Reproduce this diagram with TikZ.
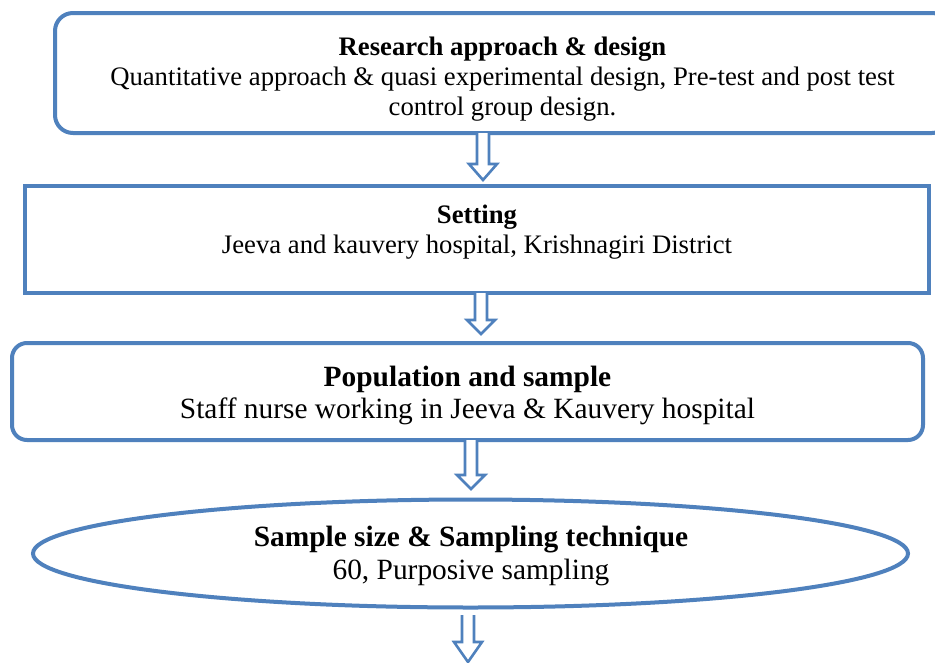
\documentclass[tikz,border=0pt]{standalone}
\usepackage{fontspec}
\setmainfont{Liberation Serif}
\usetikzlibrary{shapes.geometric}
\definecolor{oblue}{HTML}{4F81BD}
\tikzset{
  x=1pt, y=-1pt,
  frame/.style={draw=oblue, line width=4pt, fill=none, inner sep=0pt},
  lbl/.style={align=center, inner sep=0pt, text=black},
  barrow/.style={draw=oblue, line width=2.6pt, fill=white, line join=miter},
}
\newcommand{\blockarrow}[4]{% centre x, top y, head y, tip y
  \draw[barrow] (#1-6,#2) -- (#1-6,#3) -- (#1-14,#3) -- (#1,#4) -- (#1+14,#3) -- (#1+6,#3) -- (#1+6,#2);
}
\begin{document}
\begin{tikzpicture}
\useasboundingbox (0,0) rectangle (935,662);
\clip (0,0) rectangle (935,662);
\fill[white] (0,0) rectangle (935,662);
% shapes
\draw[frame, rounded corners=18pt] (55,13) rectangle (950,133);
\node[frame, rectangle, minimum width=904pt, minimum height=107pt] (b2) at (477,239.5) {};
\draw[frame, rounded corners=15pt] (12,343) rectangle (923,440);
\node[frame, ellipse, minimum width=875pt, minimum height=108pt] (e4) at (470.5,553.5) {};
% texts
\node[lbl, font=\fontsize{26.7}{30}\selectfont] (t1) at (502.5,79)
  {\textbf{Research approach \& design}\\Quantitative approach \& quasi experimental design, Pre-test and post test\\control group design.};
\node[lbl, font=\fontsize{26.7}{30}\selectfont] (t2) at (477,232)
  {\textbf{Setting}\\Jeeva and kauvery hospital, Krishnagiri District};
\node[lbl, font=\fontsize{29.4}{32}\selectfont] (t3) at (467.5,395.5)
  {\textbf{Population and sample}\\Staff nurse working in Jeeva \& Kauvery hospital};
\node[lbl, font=\fontsize{29.4}{33}\selectfont] (t4) at (471,556)
  {\textbf{Sample size \& Sampling technique}\\60, Purposive sampling};
% arrows
\blockarrow{483}{133}{164}{180}
\blockarrow{481}{293}{320}{334}
\blockarrow{471}{440}{475}{489}
\blockarrow{468}{615}{642}{662}
\end{tikzpicture}
\end{document}
